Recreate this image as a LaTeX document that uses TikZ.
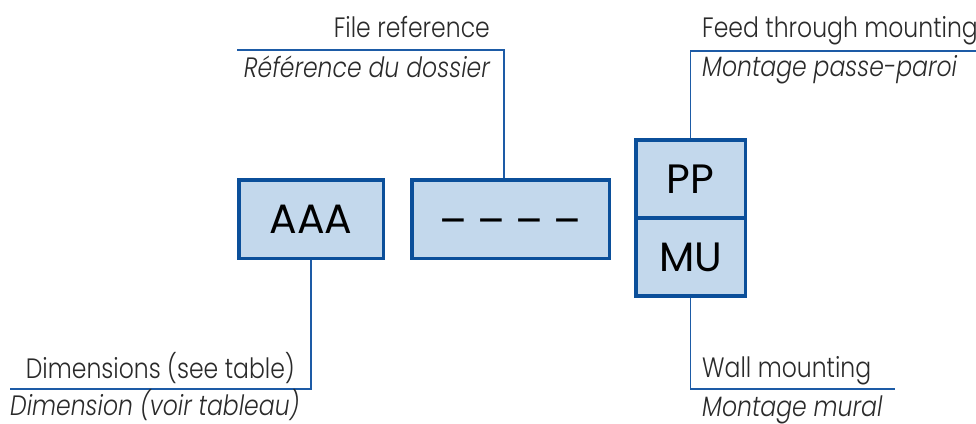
\documentclass[tikz,border=0pt]{standalone}
\usepackage{fontspec}
\setmainfont{Poppins}[UprightFont=* Light, ItalicFont=* Light Italic, FakeStretch=0.84]
\newfontfamily\boxfont{Poppins}
\definecolor{boxfill}{HTML}{C3D8EC}
\definecolor{boxline}{HTML}{0B4F9A}
\definecolor{connline}{HTML}{1D5BA6}
\definecolor{txt}{HTML}{2A2A2A}
\tikzset{
  box/.style={draw=boxline, fill=boxfill, line width=3.5pt, inner sep=0pt, text=black,
    font=\boxfont\fontsize{41}{45}\selectfont},
  conn/.style={draw=connline, line width=1.6pt},
  lbl/.style={text=txt, inner sep=0pt, font=\fontsize{28}{32}\selectfont},
  ilbl/.style={lbl, font=\fontsize{28}{32}\selectfont\itshape},
}
\begin{document}
\begin{tikzpicture}[x=1pt,y=-1pt]
\useasboundingbox (0,0) rectangle (976,423);
% boxes
\node[box, minimum width=144.5pt, minimum height=78.5pt] (aaa) at (311,219) {AAA};
\node[box, minimum width=197.5pt, minimum height=78.5pt] (dash) at (510.5,219) {\raisebox{-16pt}[0pt][0pt]{–\hspace{10pt}–\hspace{10pt}–\hspace{10pt}–}};
\node[box, minimum width=109.5pt, minimum height=78pt] (pp) at (690.5,179) {PP};
\node[box, minimum width=109.5pt, minimum height=78pt] (mu) at (690.5,257) {MU};
% file reference
\coordinate (frL) at (237,50);
\coordinate (frC) at (504,50);
\draw[conn] (frL) -- (frC) -- (frC |- dash.north);
\node[lbl, anchor=base east] (fr1) at (490,37) {File reference};
\node[ilbl, anchor=base east] (fr2) at (490,77) {Référence du dossier};
% feed through
\coordinate (ftR) at (976,51);
\draw[conn] (ftR) -- (ftR -| pp.north) -- (pp.north);
\node[lbl, anchor=base west] (ft1) at (702,37) {Feed through mounting};
\node[ilbl, anchor=base west] (ft2) at (702,76) {Montage passe-paroi};
% dimensions
\coordinate (dmL) at (10,389);
\draw[conn] (aaa.south) -- (aaa.south |- dmL) -- (dmL);
\node[lbl, anchor=base east] (dm1) at (295,378) {Dimensions (see table)};
\node[ilbl, anchor=base west] (dm2) at (10,415) {Dimension (voir tableau)};
% wall mounting
\coordinate (wmR) at (895,389);
\draw[conn] (mu.south) -- (mu.south |- wmR) -- (wmR);
\node[lbl, anchor=base west] (wm1) at (702,377) {Wall mounting};
\node[ilbl, anchor=base west] (wm2) at (702,416) {Montage mural};
\end{tikzpicture}
\end{document}
